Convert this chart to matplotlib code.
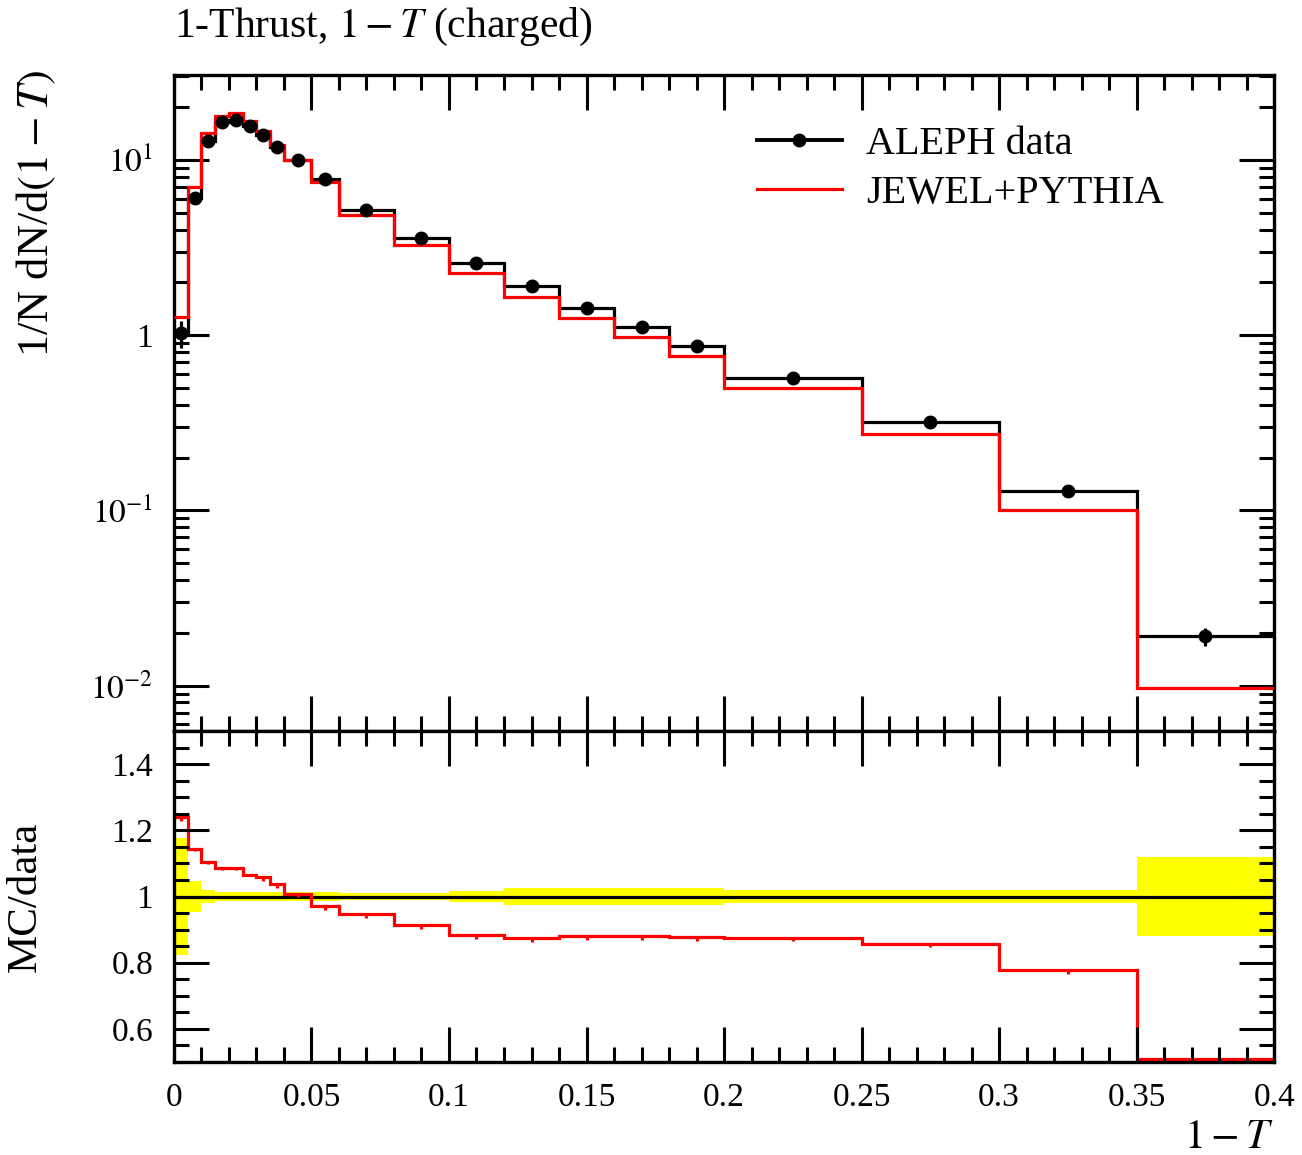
import numpy as np
import matplotlib
matplotlib.use("Agg")
import matplotlib.pyplot as plt
from matplotlib.ticker import MultipleLocator, FixedLocator, LogLocator, FuncFormatter, NullFormatter

plt.rcParams["font.family"] = ["Liberation Serif", "DejaVu Serif"]
plt.rcParams["mathtext.fontset"] = "stix"

# bin edges of 1-T
edges = np.array([0.0, 0.005, 0.01, 0.015, 0.02, 0.025, 0.03, 0.035, 0.04, 0.05,
                  0.06, 0.08, 0.10, 0.12, 0.14, 0.16, 0.18, 0.20, 0.25, 0.30,
                  0.35, 0.40])

# ALEPH data, 1/N dN/d(1-T)
data = np.array([1.03, 6.1, 12.9, 16.4, 17.0, 15.7, 13.8, 11.8, 9.95, 7.74,
                 5.16, 3.57, 2.57, 1.90, 1.42, 1.11, 0.866, 0.569, 0.320,
                 0.129, 0.0191])
# relative data uncertainty (yellow band)
data_err_rel = np.array([0.176, 0.047, 0.02, 0.015, 0.015, 0.015, 0.015, 0.015,
                         0.015, 0.015, 0.012, 0.012, 0.018, 0.025, 0.025, 0.025,
                         0.025, 0.02, 0.02, 0.02, 0.12])

# JEWEL+PYTHIA
mc = np.array([1.277, 6.97, 14.24, 17.81, 18.46, 16.74, 14.60, 12.24, 10.04,
               7.52, 4.88, 3.26, 2.27, 1.66, 1.25, 0.979, 0.759, 0.498, 0.274,
               0.1005, 0.00974])
# relative (downward) MC stat. error
mc_err_rel = np.array([0.01, 0.005, 0.005, 0.005, 0.005, 0.005, 0.01, 0.01, 0.01,
                       0.012, 0.012, 0.012, 0.012, 0.012, 0.014, 0.014, 0.012,
                       0.01, 0.012, 0.015, 0.01])

centers = 0.5 * (edges[1:] + edges[:-1])
ratio = mc / data

LW = 2.3
fig = plt.figure(figsize=(13.02, 11.55), dpi=100)
ax = fig.add_axes([0.1336, 0.3671, 0.845, 0.5679])
rax = fig.add_axes([0.1336, 0.0805, 0.845, 0.2866], sharex=ax)

# --- main panel
ax.stairs(data, edges, baseline=None, color="black", lw=LW)
ax.errorbar(centers, data, yerr=data * data_err_rel, fmt="o", color="black",
            ms=9, elinewidth=LW, capsize=0, zorder=4)
ax.stairs(mc, edges, baseline=None, color="red", lw=LW, zorder=3)
ax.errorbar(centers, mc, yerr=[mc * mc_err_rel, np.zeros_like(mc)], fmt="none",
            ecolor="red", elinewidth=LW, capsize=0, zorder=3)

ax.set_yscale("log")
ax.set_xlim(0, 0.4)
ax.set_ylim(0.0055, 30.5)

h_data = plt.Line2D([], [], color="black", lw=LW + 0.5, marker="o", ms=9)
h_mc = plt.Line2D([], [], color="red", lw=LW)
ax.legend([h_data, h_mc], ["ALEPH data", "JEWEL+PYTHIA"], loc="upper left",
          bbox_to_anchor=(0.53, 0.923), frameon=False, fontsize=29,
          borderpad=0, borderaxespad=0, handlelength=2.1, handletextpad=0.6,
          labelspacing=0.3)

ax.yaxis.set_major_locator(FixedLocator([0.01, 0.1, 1, 10]))
ax.set_yticklabels([r"$10^{-2}$", r"$10^{-1}$", "1", r"$10^{1}$"])
ax.yaxis.set_minor_locator(LogLocator(base=10, subs=np.arange(2, 10)))
ax.yaxis.set_minor_formatter(NullFormatter())

ax.set_ylabel(r"1/N dN/d$(1-T)$", fontsize=32)
ax.yaxis.label.set_ha("right")
ax.yaxis.label.set_va("center")
ax.yaxis.set_label_coords(-0.125, 1.008)

fig.text(174 / 1302, 1 - 27 / 1155, r"1-Thrust, $1-T$ (charged)", fontsize=30,
         ha="left", va="center")

# --- ratio panel
rax.stairs(1 + data_err_rel, edges, baseline=1 - data_err_rel, fill=True,
           color="#ffff00", lw=0)
rax.stairs(np.ones_like(data), edges, baseline=None, color="black", lw=LW)
rax.stairs(ratio, edges, baseline=None, color="red", lw=LW)
rax.errorbar(centers, ratio, yerr=[ratio * mc_err_rel, np.zeros_like(ratio)],
             fmt="none", ecolor="red", elinewidth=LW, capsize=0)
rax.set_ylim(0.5, 1.5)
rax.yaxis.set_major_locator(FixedLocator([0.6, 0.8, 1.0, 1.2, 1.4]))
rax.yaxis.set_minor_locator(MultipleLocator(0.05))
rax.yaxis.set_major_formatter(FuncFormatter(lambda v, p: "%g" % v))
rax.set_ylabel("MC/data", fontsize=31)
rax.yaxis.set_label_coords(-0.117, 0.5)

rax.xaxis.set_major_locator(MultipleLocator(0.05))
rax.xaxis.set_minor_locator(MultipleLocator(0.01))
rax.xaxis.set_major_formatter(FuncFormatter(lambda v, p: "%g" % round(v, 3)))
rax.set_xlabel(r"$1-T$", fontsize=30)
rax.xaxis.label.set_ha("right")
rax.xaxis.label.set_va("center")
rax.xaxis.set_label_coords(1.0, -0.23)

for a in (ax, rax):
    a.tick_params(which="both", direction="in", top=True, right=True,
                  width=2.2, labelsize=24, pad=15)
    a.tick_params(which="major", length=25)
    a.tick_params(which="minor", length=11)
    for s in a.spines.values():
        s.set_linewidth(2.4)
ax.tick_params(labelbottom=False)

fig.savefig("out.png", dpi=100)
